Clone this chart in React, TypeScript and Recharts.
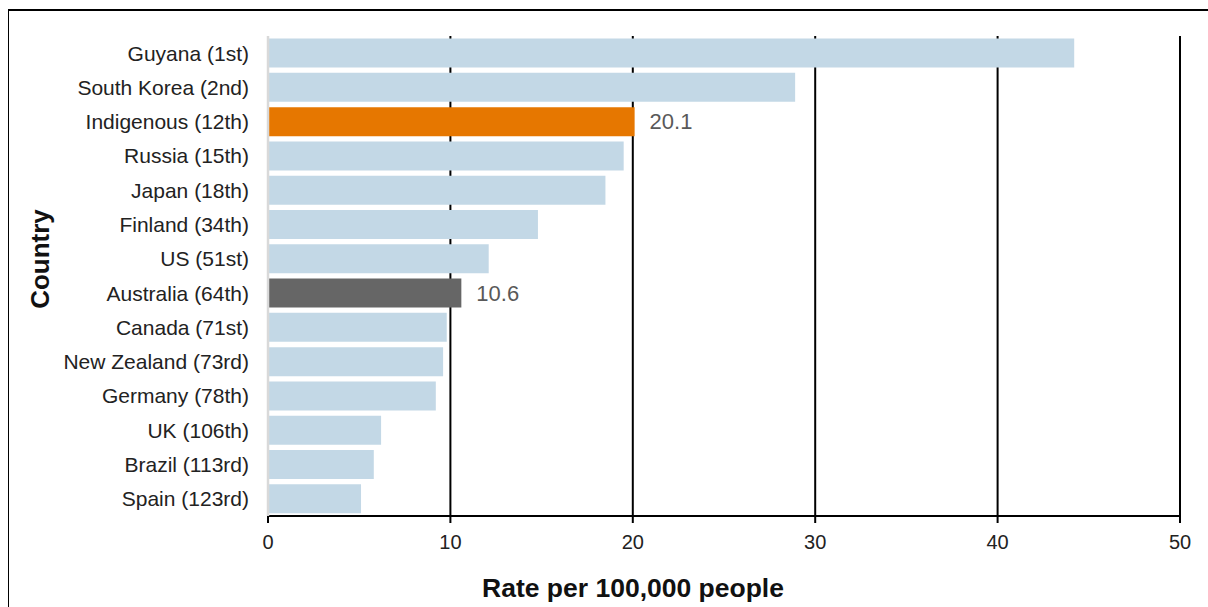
import { Bar, BarChart, CartesianGrid, Cell, LabelList, XAxis, YAxis } from "recharts";

const countries = [
  "Guyana (1st)",
  "South Korea (2nd)",
  "Indigenous (12th)",
  "Russia (15th)",
  "Japan (18th)",
  "Finland (34th)",
  "US (51st)",
  "Australia (64th)",
  "Canada (71st)",
  "New Zealand (73rd)",
  "Germany (78th)",
  "UK (106th)",
  "Brazil (113rd)",
  "Spain (123rd)",
];

const rates = [44.2, 28.9, 20.1, 19.5, 18.5, 14.8, 12.1, 10.6, 9.8, 9.6, 9.2, 6.2, 5.8, 5.1];

// only these two bars carry a value label
const labelled = ["Indigenous (12th)", "Australia (64th)"];

const xTicks = [0, 10, 20, 30, 40, 50];

const BASE = "#c3d8e6";
const HIGHLIGHT: Record<string, string> = {
  "Indigenous (12th)": "#e67700",
  "Australia (64th)": "#666666",
};

const FONT = "'Liberation Sans', Arial, sans-serif";

const data = countries.map((name, i) => ({
  name,
  value: rates[i],
  label: labelled.includes(name) ? rates[i].toFixed(1) : "",
}));

export default function App() {
  // fixed to the window so nothing overflows the page and makes it scroll
  return (
    <div
      style={{
        position: "fixed",
        inset: 0,
        overflow: "hidden",
        background: "#fff",
        fontFamily: FONT,
      }}
    >
      {/* frame: only the top and left edges show in the picture */}
      <div style={{ position: "absolute", left: 8, top: 9, right: 0, height: 1.5, background: "#000" }} />
      <div style={{ position: "absolute", left: 7.5, top: 9, width: 1.5, bottom: 0, background: "#000" }} />
      <BarChart
        width={1200}
        height={599}
        data={data}
        layout="vertical"
        margin={{ top: 28, right: 28, bottom: 0, left: 0 }}
        barCategoryGap="7.5%"
        style={{ position: "absolute", left: 8, top: 8 }}
      >
        <CartesianGrid horizontal={false} stroke="#000" strokeWidth={2} />
        <XAxis
          type="number"
          domain={[0, 50]}
          ticks={xTicks}
          height={91}
          axisLine={{ stroke: "#000", strokeWidth: 2 }}
          tickLine={{ stroke: "#000", strokeWidth: 2 }}
          tickSize={7}
          tickMargin={12}
          tick={{ fill: "#222", fontSize: 20, fontFamily: FONT }}
          label={{
            // centred on the whole chart, not just the plot area
            content: () => (
              <text
                x={625}
                y={589}
                textAnchor="middle"
                fill="#111"
                fontSize={26.5}
                fontWeight="bold"
                fontFamily={FONT}
              >
                Rate per 100,000 people
              </text>
            ),
          }}
        />
        <YAxis
          type="category"
          dataKey="name"
          width={260}
          axisLine={{ stroke: "#d9d9d9", strokeWidth: 2.5 }}
          tickLine={false}
          tickSize={0}
          tickMargin={19}
          interval={0}
          tick={{ fill: "#222", fontSize: 21, fontFamily: FONT }}
          label={{
            content: () => (
              <text
                x={32}
                y={251}
                transform="rotate(-90, 32, 251)"
                textAnchor="middle"
                dominantBaseline="central"
                fill="#111"
                fontSize={26}
                fontWeight="bold"
                fontFamily={FONT}
              >
                Country
              </text>
            ),
          }}
        />
        <Bar dataKey="value" isAnimationActive={false}>
          {data.map((d) => (
            <Cell key={d.name} fill={HIGHLIGHT[d.name] ?? BASE} />
          ))}
          <LabelList
            dataKey="label"
            position="right"
            offset={15}
            fill="#595959"
            fontSize={22}
            fontFamily={FONT}
          />
        </Bar>
      </BarChart>
    </div>
  );
}
